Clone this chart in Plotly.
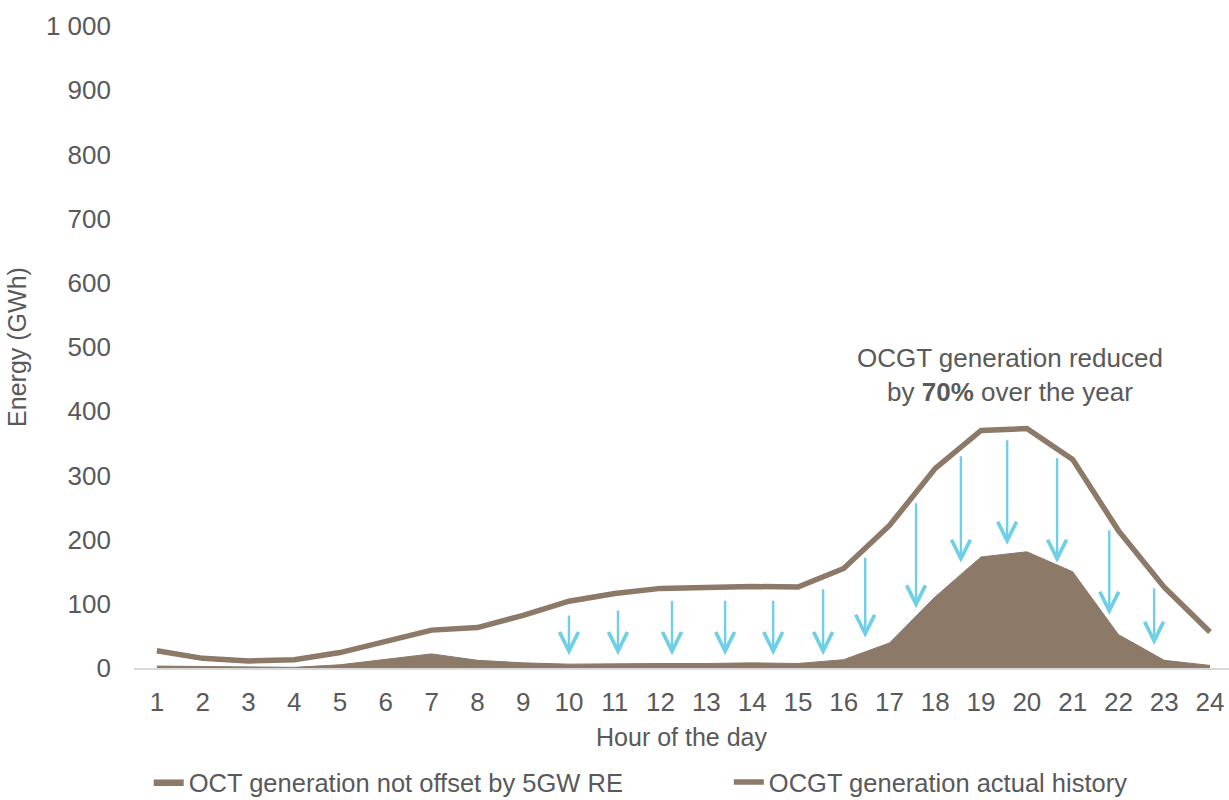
import plotly.graph_objects as go

hours = list(range(1, 25))
actual_history = [27, 15, 11, 13, 24, 41, 59, 63, 82, 104, 116, 124, 126, 127, 126,
                  155, 222, 311, 370, 373, 325, 214, 126, 56]
not_offset = [3, 2, 1, 1, 5, 14, 22, 12, 8, 6, 7, 7, 7, 8, 7,
              13, 39, 111, 173, 181, 150, 52, 12, 4]

y_ticks = [0, 100, 200, 300, 400, 500, 600, 700, 800, 900, 1000]
y_tick_labels = ["0", "100", "200", "300", "400", "500", "600", "700", "800", "900", "1 000"]

arrow_x = [10.0, 11.07, 12.25, 13.41, 14.46, 15.55, 16.47, 17.58, 18.56, 19.57, 20.66, 21.8, 22.78]
arrow_top = [84, 92, 107, 107, 107, 125, 174, 259, 332, 357, 329, 217, 126]
arrow_tip = [20, 20, 20, 20, 20, 20, 47, 93, 164, 192, 164, 83, 36]

BROWN = "#8C7968"
BLUE = "#6FCFE6"
GREY = "#595959"
FONT = "Liberation Sans, Arial, sans-serif"

fig = go.Figure()
fig.add_trace(go.Scatter(
    x=hours, y=not_offset, mode="lines", fill="tozeroy",
    fillcolor=BROWN, line=dict(color=BROWN, width=1),
    name="OCT generation not offset by 5GW RE", legend="legend",
))
fig.add_trace(go.Scatter(
    x=hours, y=actual_history, mode="lines",
    line=dict(color=BROWN, width=5.5),
    name="OCGT generation actual history", legend="legend2",
))

for xa, yt, yb in zip(arrow_x, arrow_top, arrow_tip):
    fig.add_annotation(
        x=xa, y=yb, ax=xa, ay=yt, xref="x", yref="y", axref="x", ayref="y",
        text="", showarrow=True, arrowhead=5, arrowsize=1.55, arrowwidth=2.4,
        arrowcolor=BLUE, standoff=0, startstandoff=0,
    )

fig.add_annotation(
    x=19.63, y=456, xref="x", yref="y", showarrow=False,
    text="OCGT generation reduced<br>by <b>70%</b> over the year",
    font=dict(family=FONT, size=26, color=GREY), align="center",
)

legend_common = dict(orientation="h", xref="container", yref="container",
                     y=0.022, xanchor="left", yanchor="middle",
                     font=dict(size=25.5, color=GREY), itemwidth=30)

fig.update_layout(
    width=1229, height=800,
    margin=dict(l=134, r=0, t=26, b=132, autoexpand=False),
    paper_bgcolor="white", plot_bgcolor="white",
    font=dict(family=FONT, size=26, color=GREY),
    showlegend=True,
    legend=dict(x=0.121, **legend_common),
    legend2=dict(x=0.593, **legend_common),
    xaxis=dict(
        range=[0.5, 24.415], tickmode="array", tickvals=hours,
        ticktext=[str(h) for h in hours], showgrid=False, zeroline=False,
        showline=True, linecolor="#D9D9D9", linewidth=2, ticks="",
        ticklabelstandoff=10, automargin=False,
        title=dict(text="Hour of the day", font=dict(size=25, color=GREY), standoff=12),
    ),
    yaxis=dict(
        range=[0, 1000], tickmode="array", tickvals=y_ticks, ticktext=y_tick_labels,
        showgrid=False, zeroline=False, showline=False, ticks="",
        ticklabelstandoff=22, automargin=False,
        title=dict(text="Energy (GWh)", font=dict(size=25, color=GREY), standoff=12),
    ),
)

fig.write_html("out.html")
